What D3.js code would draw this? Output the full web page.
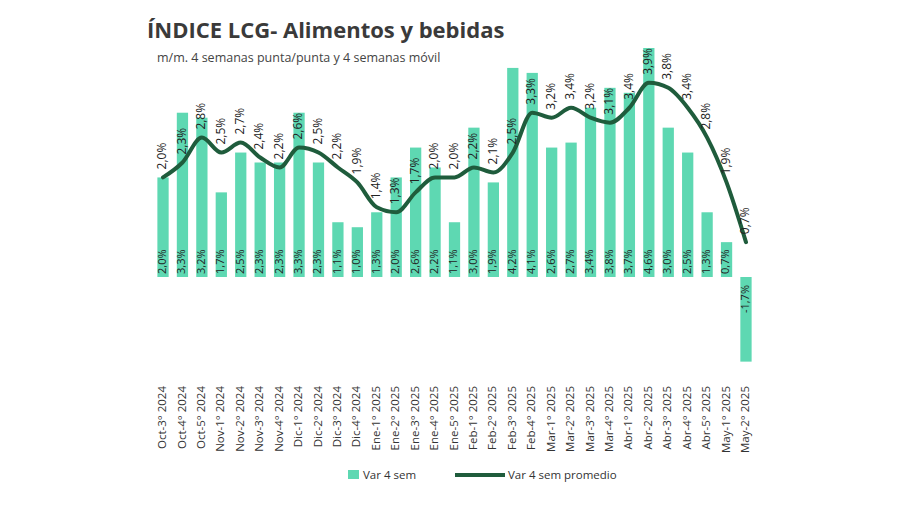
<!DOCTYPE html><html><head><meta charset="utf-8"><script src="https://cdn.jsdelivr.net/npm/d3@7"></script>
<style>body{margin:0;background:#fff}text{font-family:"Open Sans","Noto Sans",sans-serif}</style></head><body>
<svg id="c" width="900" height="505"></svg>
<script>
const categories=["Oct-3° 2024","Oct-4° 2024","Oct-5° 2024","Nov-1° 2024","Nov-2° 2024","Nov-3° 2024","Nov-4° 2024","Dic-1° 2024","Dic-2° 2024","Dic-3° 2024","Dic-4° 2024","Ene-1° 2025","Ene-2° 2025","Ene-3° 2025","Ene-4° 2025","Ene-5° 2025","Feb-1° 2025","Feb-2° 2025","Feb-3° 2025","Feb-4° 2025","Mar-1° 2025","Mar-2° 2025","Mar-3° 2025","Mar-4° 2025","Abr-1° 2025","Abr-2° 2025","Abr-3° 2025","Abr-4° 2025","Abr-5° 2025","May-1° 2025","May-2° 2025"];
const var4sem=[2.0,3.3,3.2,1.7,2.5,2.3,2.3,3.3,2.3,1.1,1.0,1.3,2.0,2.6,2.2,1.1,3.0,1.9,4.2,4.1,2.6,2.7,3.4,3.8,3.7,4.6,3.0,2.5,1.3,0.7,-1.7];
const var4semProm=[2.0,2.3,2.8,2.5,2.7,2.4,2.2,2.6,2.5,2.2,1.9,1.4,1.3,1.7,2.0,2.0,2.2,2.1,2.5,3.3,3.2,3.4,3.2,3.1,3.4,3.9,3.8,3.4,2.8,1.9,0.7];
const svg=d3.select("#c");
const barC="#5ed8b2",lineC="#1f5c3c";
const x=d3.scaleBand().domain(categories).range([153.3,755.7]).paddingInner(0.42).paddingOuter(0.21);
const y=d3.scaleLinear().domain([0,4.6]).range([277,48]);
const fmt=v=>v.toFixed(1).replace(".",",")+"%";
svg.append("text").attr("x",147).attr("y",38).attr("font-size",22).attr("font-weight",700).attr("fill","#3a3a3a").text("ÍNDICE LCG- Alimentos y bebidas");
svg.append("text").attr("x",157).attr("y",62).attr("font-size",12.5).attr("fill","#444").text("m/m. 4 semanas punta/punta y 4 semanas móvil");
const cx=c=>x(c)+x.bandwidth()/2;
svg.selectAll("rect.b").data(categories).join("rect").attr("x",d=>x(d)).attr("width",x.bandwidth())
 .attr("y",(d,i)=>y(Math.max(0,var4sem[i]))).attr("height",(d,i)=>Math.abs(y(var4sem[i])-y(0))).attr("fill",barC);
svg.selectAll("text.bl").data(categories).join("text").attr("font-size",11).attr("fill","#222")
 .attr("text-anchor",(d,i)=>var4sem[i]<0?"end":"start").attr("dominant-baseline","middle")
 .attr("transform",(d,i)=>`translate(${cx(d)},${var4sem[i]<0?y(0)+8:y(0)-3}) rotate(-90)`).text((d,i)=>fmt(var4sem[i]));
const line=d3.line().x((d,i)=>cx(categories[i])).y(d=>y(d)).curve(d3.curveMonotoneX);
svg.append("path").attr("d",line(var4semProm)).attr("fill","none").attr("stroke",lineC).attr("stroke-width",4).attr("stroke-linecap","round");
svg.selectAll("text.ll").data(categories).join("text").attr("font-size",12).attr("fill","#222").attr("text-anchor","start").attr("dominant-baseline","middle")
 .attr("transform",(d,i)=>`translate(${cx(d)},${y(var4semProm[i])-8}) rotate(-90)`).text((d,i)=>fmt(var4semProm[i]));
svg.selectAll("text.ax").data(categories).join("text").attr("font-size",11.5).attr("fill","#333").attr("text-anchor","end").attr("dominant-baseline","middle")
 .attr("transform",d=>`translate(${cx(d)},386) rotate(-90)`).text(d=>d);
svg.append("rect").attr("x",348).attr("y",470).attr("width",11).attr("height",9).attr("fill",barC);
svg.append("text").attr("x",363).attr("y",479).attr("font-size",11.5).attr("fill","#333").text("Var 4 sem");
svg.append("line").attr("x1",455).attr("x2",505).attr("y1",475).attr("y2",475).attr("stroke",lineC).attr("stroke-width",4);
svg.append("text").attr("x",508).attr("y",479).attr("font-size",11.5).attr("fill","#333").text("Var 4 sem promedio");
</script></body></html>
